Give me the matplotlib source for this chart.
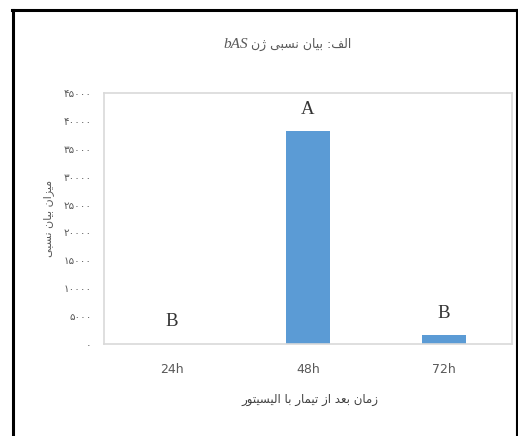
import matplotlib
matplotlib.use("Agg")
import matplotlib.pyplot as plt
from matplotlib.lines import Line2D

# data
categories = ["24h", "48h", "72h"]
values = [60, 38100, 1600]
letters = ["B", "A", "B"]
yticks = [0, 5000, 10000, 15000, 20000, 25000, 30000, 35000, 40000, 45000]

title_fa = "الف: بیان نسبی ژن"
title_gene = "bAS"
ylabel_fa = "میزان بیان نسبی"
xlabel_fa = "زمان بعد از تیمار با الیسیتور"

# presentation forms: isolated, final, initial, medial
FORMS = {
    "ا": ("\uFE8D", "\uFE8E", None, None),
    "ب": ("\uFE8F", "\uFE90", "\uFE91", "\uFE92"),
    "ت": ("\uFE95", "\uFE96", "\uFE97", "\uFE98"),
    "د": ("\uFEA9", "\uFEAA", None, None),
    "ر": ("\uFEAD", "\uFEAE", None, None),
    "ز": ("\uFEAF", "\uFEB0", None, None),
    "ژ": ("\uFB8A", "\uFB8B", None, None),
    "س": ("\uFEB1", "\uFEB2", "\uFEB3", "\uFEB4"),
    "ع": ("\uFEC9", "\uFECA", "\uFECB", "\uFECC"),
    "ف": ("\uFED1", "\uFED2", "\uFED3", "\uFED4"),
    "ل": ("\uFEDD", "\uFEDE", "\uFEDF", "\uFEE0"),
    "م": ("\uFEE1", "\uFEE2", "\uFEE3", "\uFEE4"),
    "ن": ("\uFEE5", "\uFEE6", "\uFEE7", "\uFEE8"),
    "و": ("\uFEED", "\uFEEE", None, None),
    "ی": ("\uFBFC", "\uFBFD", "\uFBFE", "\uFBFF"),
}


def fa(text):
    # simple shaping + reversal, matplotlib has no RTL layout
    out = []
    for i, ch in enumerate(text):
        if ch not in FORMS:
            out.append(ch)
            continue
        prev = text[i - 1] if i > 0 else ""
        nxt = text[i + 1] if i + 1 < len(text) else ""
        join_prev = prev in FORMS and FORMS[prev][2] is not None
        join_next = FORMS[ch][2] is not None and nxt in FORMS
        iso, fin, ini, med = FORMS[ch]
        if join_prev and join_next:
            out.append(med)
        elif join_prev:
            out.append(fin)
        elif join_next:
            out.append(ini)
        else:
            out.append(iso)
    return "".join(out)[::-1]


def fa_digits(n):
    return str(n).translate(str.maketrans("0123456789", "۰۱۲۳۴۵۶۷۸۹"))


fig = plt.figure(figsize=(5.18, 4.36), dpi=100)
ax = fig.add_axes([0.2008, 0.211, 0.7876, 0.5757])

x = range(len(categories))
ax.bar(x, values, width=0.32, color="#5B9BD5")
for i, (v, l) in enumerate(zip(values, letters)):
    ax.annotate(l, (i, v), xytext=(0, 22), textcoords="offset pixels",
                ha="center", va="center", fontsize=13.5,
                family="Liberation Serif", color="#333333")

ax.set_xlim(-0.5, 2.5)
ax.set_ylim(0, 45000)
ax.set_xticks(list(x))
ax.set_xticklabels(categories, family="DejaVu Sans",
                   fontsize=9, color="#595959")
ax.set_yticks(yticks)
ax.set_yticklabels([fa_digits(t) for t in yticks], family="DejaVu Sans",
                   fontsize=7.5, color="#595959")
ax.tick_params(length=0)
ax.tick_params(axis="x", pad=14)
ax.tick_params(axis="y", pad=9)
for s in ax.spines.values():
    s.set_color("#d9d9d9")
    s.set_linewidth(1.2)

fig.text(0.093, 0.5, fa(ylabel_fa), rotation=90, ha="center", va="center",
         family="DejaVu Sans", fontsize=8, color="#595959")
fig.text(0.598, 0.083, fa(xlabel_fa), ha="center", va="center",
         family="DejaVu Sans", fontsize=8.5, color="#404040")
fig.text(0.484, 0.897, fa(title_fa), ha="left", va="center",
         family="DejaVu Sans", fontsize=9, color="#595959")
fig.text(0.478, 0.897, title_gene, ha="right", va="center",
         family="Liberation Serif", style="italic", fontsize=11, color="#595959")

# black frame around the figure
fig.add_artist(Line2D([0.025, 0.025], [0, 0.976], color="black", lw=2.2))
fig.add_artist(Line2D([0.023, 0.998], [0.976, 0.976], color="black", lw=2.2))
fig.add_artist(Line2D([0.998, 0.998], [0, 0.976], color="black", lw=1.5))

fig.savefig("out.png", dpi=100)
